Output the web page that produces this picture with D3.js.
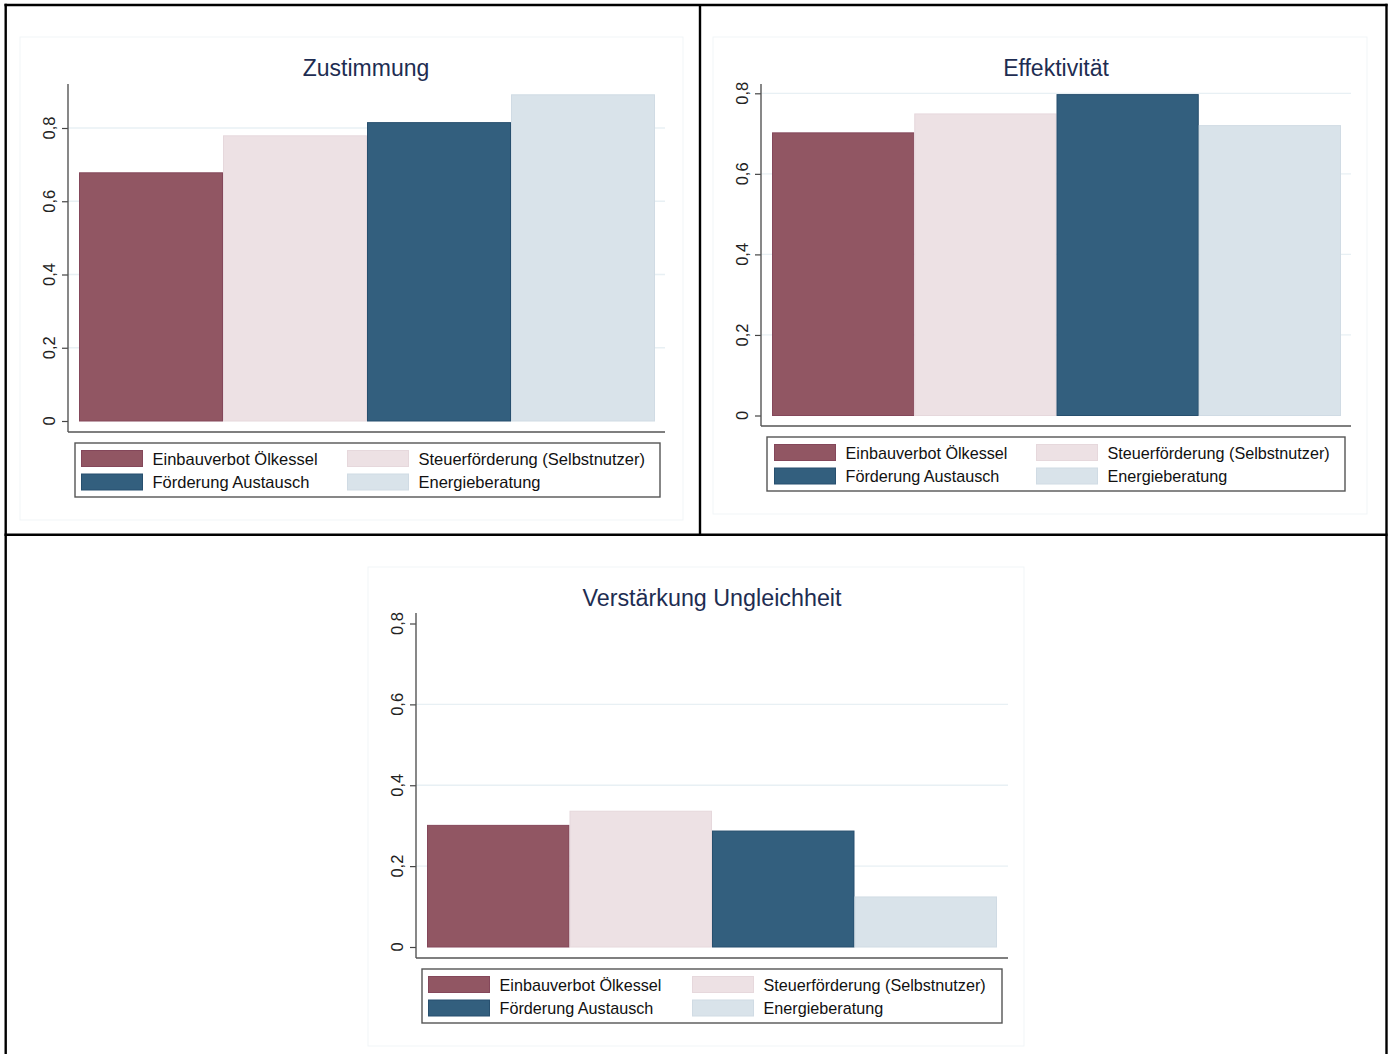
<!DOCTYPE html>
<html>
<head>
<meta charset="utf-8">
<script src="https://cdn.jsdelivr.net/npm/d3@7"></script>
<style>
  html, body { margin: 0; padding: 0; background: #fff; }
  svg { display: block; font-family: "Liberation Sans", Arial, sans-serif; }
</style>
</head>
<body>
<svg id="chart" width="1394" height="1054"></svg>
<script>
// ---- data ----
const categories = ["Einbauverbot Ölkessel", "Steuerförderung (Selbstnutzer)", "Förderung Austausch", "Energieberatung"];
const zustimmung = [0.679, 0.780, 0.816, 0.892];
const effektivitaet = [0.703, 0.750, 0.798, 0.721];
const ungleichheit = [0.302, 0.337, 0.288, 0.125];
const titles = ["Zustimmung", "Effektivität", "Verstärkung Ungleichheit"];
const yTicks = [0, 0.2, 0.4, 0.6, 0.8];
const yTickLabels = ["0", "0,2", "0,4", "0,6", "0,8"];
// legend layout order: row 1 / row 2, column-major
const legendOrder = [0, 2, 1, 3];

const fills = ["#915663", "#ede1e4", "#335f7e", "#d9e3ea"];
const strokes = ["#84475a", "#e6d8dc", "#274f6e", "#d0dbe4"];

// ---- layout of panels ----
const panels = [
  { values: zustimmung, title: titles[0], bg: [20, 37, 683, 520], axisX: 68, axisTop: 84, axisBottom: 432, axisRight: 665,
    y0: 421, y08: 128, bars: [79, 655], titleX: 366, titleY: 76, titleSize: 23, labelX: 55,
    legend: [75, 443, 660, 497], legCols: [6, 272], legFont: 16.5, gridSkip: [] },
  { values: effektivitaet, title: titles[1], bg: [713, 37, 1367, 514], axisX: 761, axisTop: 84, axisBottom: 426, axisRight: 1351,
    y0: 415.5, y08: 93.3, bars: [772, 1341], titleX: 1056, titleY: 76, titleSize: 23, labelX: 748,
    legend: [767, 437, 1345, 491], legCols: [7, 269], legFont: 16.2, gridSkip: [] },
  { values: ungleichheit, title: titles[2], bg: [368, 567, 1024, 1046], axisX: 416, axisTop: 613, axisBottom: 958, axisRight: 1008,
    y0: 947, y08: 623.5, bars: [427, 997], titleX: 712, titleY: 606, titleSize: 23.3, labelX: 403,
    legend: [422, 969, 1002, 1023], legCols: [6, 270], legFont: 16.2, gridSkip: [0.8] }
];

const svg = d3.select("#chart");

// outer frame lines
const frame = svg.append("g").attr("stroke", "#000").attr("stroke-width", 2.4);
frame.append("line").attr("x1", 5.7).attr("x2", 5.7).attr("y1", 3.8).attr("y2", 1054);
frame.append("line").attr("x1", 4.5).attr("x2", 1387.5).attr("y1", 5).attr("y2", 5);
frame.append("line").attr("x1", 700).attr("x2", 700).attr("y1", 5).attr("y2", 534.7);
frame.append("line").attr("x1", 4.5).attr("x2", 1387.5).attr("y1", 534.7).attr("y2", 534.7);
frame.append("line").attr("x1", 1386.5).attr("x2", 1386.5).attr("y1", 3.8).attr("y2", 1054);

panels.forEach(p => {
  const g = svg.append("g");

  // plot background
  g.append("rect")
    .attr("x", p.bg[0]).attr("y", p.bg[1])
    .attr("width", p.bg[2] - p.bg[0]).attr("height", p.bg[3] - p.bg[1])
    .attr("fill", "#fff").attr("stroke", "#f1f5f7").attr("stroke-width", 1);

  const y = d3.scaleLinear().domain([0, 0.8]).range([p.y0, p.y08]);
  const x = d3.scaleBand().domain(categories).range(p.bars).padding(0);

  // grid lines
  g.append("g").selectAll("line")
    .data(yTicks.filter(t => t > 0 && !p.gridSkip.includes(t)))
    .join("line")
    .attr("x1", p.axisX).attr("x2", p.axisRight)
    .attr("y1", d => y(d)).attr("y2", d => y(d))
    .attr("stroke", "#e8f0f4").attr("stroke-width", 1.3);

  // bars
  g.append("g").selectAll("rect")
    .data(p.values)
    .join("rect")
    .attr("x", (d, i) => x(categories[i]) + 0.5)
    .attr("width", x.bandwidth() - 1)
    .attr("y", d => y(d) + 0.5)
    .attr("height", d => y(0) - y(d) - 0.5)
    .attr("fill", (d, i) => fills[i])
    .attr("stroke", (d, i) => strokes[i])
    .attr("stroke-width", 1);

  // y axis
  const axis = d3.axisLeft(y).tickValues(yTicks).tickSize(6).tickFormat("");
  const ag = g.append("g").attr("transform", `translate(${p.axisX},0)`).call(axis);
  ag.select(".domain").remove();
  ag.selectAll(".tick line").attr("stroke", "#444").attr("stroke-width", 1.2);
  g.append("line").attr("x1", p.axisX).attr("x2", p.axisX)
    .attr("y1", p.axisTop).attr("y2", p.axisBottom)
    .attr("stroke", "#555").attr("stroke-width", 1.4);
  // x axis baseline
  g.append("line").attr("x1", p.axisX).attr("x2", p.axisRight)
    .attr("y1", p.axisBottom).attr("y2", p.axisBottom)
    .attr("stroke", "#555").attr("stroke-width", 1.4);

  // tick labels (rotated)
  g.append("g").selectAll("text")
    .data(yTicks)
    .join("text")
    .attr("transform", (d) => `translate(${p.labelX},${y(d)}) rotate(-90)`)
    .attr("text-anchor", "middle")
    .attr("font-size", 16.5)
    .attr("fill", "#222")
    .text((d, i) => yTickLabels[i]);

  // title
  g.append("text")
    .attr("x", p.titleX).attr("y", p.titleY)
    .attr("text-anchor", "middle")
    .attr("font-size", p.titleSize)
    .attr("fill", "#1e2d52")
    .text(p.title);

  // legend
  const [lx0, ly0, lx1, ly1] = p.legend;
  g.append("rect")
    .attr("x", lx0).attr("y", ly0).attr("width", lx1 - lx0).attr("height", ly1 - ly0)
    .attr("fill", "#fff").attr("stroke", "#555").attr("stroke-width", 1.4);
  legendOrder.forEach((ci, k) => {
    const col = Math.floor(k / 2), row = k % 2;
    const sx = lx0 + p.legCols[col];
    const sy = ly0 + 7 + row * 23.5;
    g.append("rect")
      .attr("x", sx + 0.5).attr("y", sy + 0.5).attr("width", 61).attr("height", 16)
      .attr("fill", fills[ci]).attr("stroke", strokes[ci]).attr("stroke-width", 1);
    g.append("text")
      .attr("x", sx + 71.5).attr("y", ly0 + 22 + row * 23.3)
      .attr("font-size", p.legFont)
      .attr("fill", "#111")
      .text(categories[ci]);
  });
});
</script>
</body>
</html>
